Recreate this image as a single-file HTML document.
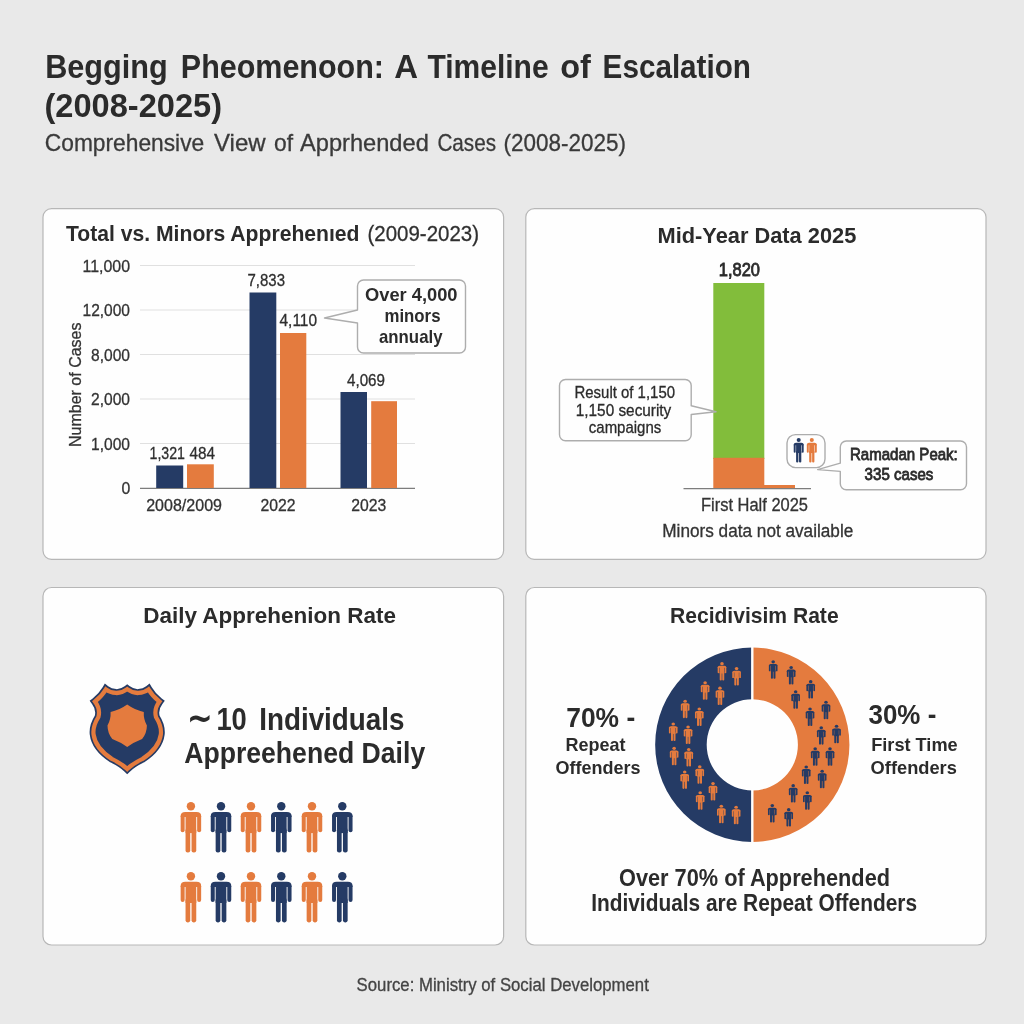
<!DOCTYPE html>
<html lang="en"><head><meta charset="utf-8"><title>Begging Phenomenon: A Timeline of Escalation</title>
<style>
html,body{margin:0;padding:0;background:#e9e9e9;}
body{width:1024px;height:1024px;overflow:hidden;}
svg{display:block;font-family:"Liberation Sans","DejaVu Sans",sans-serif;}
</style></head><body>
<svg width="1024" height="1024" viewBox="0 0 1024 1024">
<rect width="1024" height="1024" fill="#e9e9e9"/>
<defs><g id="p"><circle cx="10.25" cy="4.2" r="4.2"/><path d="M0 15 V14 Q0 9.8 4.6 9.8 H15.9 Q20.5 9.8 20.5 14 V15 Z"/><rect x="0" y="12.5" width="4" height="17.6" rx="2"/><rect x="16.5" y="12.5" width="4" height="17.6" rx="2"/><rect x="4.9" y="11" width="10.7" height="20"/><rect x="4.9" y="26" width="4.7" height="24.4" rx="2.1"/><rect x="10.9" y="26" width="4.7" height="24.4" rx="2.1"/></g></defs>
<rect x="43" y="208.6" width="460.6" height="350.69999999999993" rx="8.5" fill="#fefefe" stroke="#b7b7b7" stroke-width="1.2"/>
<rect x="525.8" y="208.6" width="460.20000000000005" height="350.69999999999993" rx="8.5" fill="#fefefe" stroke="#b7b7b7" stroke-width="1.2"/>
<rect x="43" y="587.5" width="460.6" height="357.5" rx="8.5" fill="#fefefe" stroke="#b7b7b7" stroke-width="1.2"/>
<rect x="525.8" y="587.5" width="460.20000000000005" height="357.5" rx="8.5" fill="#fefefe" stroke="#b7b7b7" stroke-width="1.2"/>
<text x="45.2" y="78" font-size="33.4" font-weight="bold" text-anchor="start" fill="#2b2b2b" textLength="122.6" lengthAdjust="spacingAndGlyphs">Begging</text>
<text x="180.8" y="78" font-size="33.4" font-weight="bold" text-anchor="start" fill="#2b2b2b" textLength="203.2" lengthAdjust="spacingAndGlyphs">Pheomenoon:</text>
<text x="394.2" y="78" font-size="33.4" font-weight="bold" text-anchor="start" fill="#2b2b2b" textLength="23.8" lengthAdjust="spacingAndGlyphs">A</text>
<text x="427.4" y="78" font-size="33.4" font-weight="bold" text-anchor="start" fill="#2b2b2b" textLength="121.2" lengthAdjust="spacingAndGlyphs">Timeline</text>
<text x="560.2" y="78" font-size="33.4" font-weight="bold" text-anchor="start" fill="#2b2b2b" textLength="30.6" lengthAdjust="spacingAndGlyphs">of</text>
<text x="602.6" y="78" font-size="33.4" font-weight="bold" text-anchor="start" fill="#2b2b2b" textLength="148.4" lengthAdjust="spacingAndGlyphs">Escalation</text>
<text x="44.5" y="116.5" font-size="33.4" font-weight="bold" text-anchor="start" fill="#2b2b2b" textLength="177.5" lengthAdjust="spacingAndGlyphs">(2008-2025)</text>
<text x="44.8" y="150.5" font-size="23.6" font-weight="normal" text-anchor="start" fill="#3a3a3a" textLength="159.4" lengthAdjust="spacingAndGlyphs" stroke="#3a3a3a" stroke-width="0.3">Comprehensive</text>
<text x="214" y="150.5" font-size="23.6" font-weight="normal" text-anchor="start" fill="#3a3a3a" textLength="51.6" lengthAdjust="spacingAndGlyphs" stroke="#3a3a3a" stroke-width="0.3">View</text>
<text x="274" y="150.5" font-size="23.6" font-weight="normal" text-anchor="start" fill="#3a3a3a" textLength="19" lengthAdjust="spacingAndGlyphs" stroke="#3a3a3a" stroke-width="0.3">of</text>
<text x="300" y="150.5" font-size="23.6" font-weight="normal" text-anchor="start" fill="#3a3a3a" textLength="128.8" lengthAdjust="spacingAndGlyphs" stroke="#3a3a3a" stroke-width="0.3">Apprhended</text>
<text x="437.4" y="150.5" font-size="23.6" font-weight="normal" text-anchor="start" fill="#3a3a3a" textLength="58.6" lengthAdjust="spacingAndGlyphs" stroke="#3a3a3a" stroke-width="0.3">Cases</text>
<text x="503.6" y="150.5" font-size="23.6" font-weight="normal" text-anchor="start" fill="#3a3a3a" textLength="122.4" lengthAdjust="spacingAndGlyphs" stroke="#3a3a3a" stroke-width="0.3">(2008-2025)</text>
<text x="66" y="240.5" font-size="22.6" fill="#2b2b2b"><tspan font-weight="bold" textLength="293.5" lengthAdjust="spacingAndGlyphs">Total vs. Minors Apprehenıed</tspan><tspan x="367.5" textLength="111.5" lengthAdjust="spacingAndGlyphs" fill="#303030" stroke="#303030" stroke-width="0.3">(2009-2023)</tspan></text>
<line x1="140" y1="265.5" x2="415" y2="265.5" stroke="#e0e0e0" stroke-width="1"/>
<line x1="140" y1="310" x2="415" y2="310" stroke="#e0e0e0" stroke-width="1"/>
<line x1="140" y1="354.5" x2="415" y2="354.5" stroke="#e0e0e0" stroke-width="1"/>
<line x1="140" y1="399" x2="415" y2="399" stroke="#e0e0e0" stroke-width="1"/>
<line x1="140" y1="443.5" x2="415" y2="443.5" stroke="#e0e0e0" stroke-width="1"/>
<line x1="140" y1="488.3" x2="415" y2="488.3" stroke="#7d7d7d" stroke-width="1.3"/>
<text x="82.5" y="271.5" font-size="17.2" font-weight="normal" text-anchor="start" fill="#333" textLength="47.5" lengthAdjust="spacingAndGlyphs" stroke="#333" stroke-width="0.3">11,000</text>
<text x="82.5" y="316" font-size="17.2" font-weight="normal" text-anchor="start" fill="#333" textLength="47.5" lengthAdjust="spacingAndGlyphs" stroke="#333" stroke-width="0.3">12,000</text>
<text x="91" y="360.5" font-size="17.2" font-weight="normal" text-anchor="start" fill="#333" textLength="39" lengthAdjust="spacingAndGlyphs" stroke="#333" stroke-width="0.3">8,000</text>
<text x="91" y="405" font-size="17.2" font-weight="normal" text-anchor="start" fill="#333" textLength="39" lengthAdjust="spacingAndGlyphs" stroke="#333" stroke-width="0.3">2,000</text>
<text x="91" y="449.5" font-size="17.2" font-weight="normal" text-anchor="start" fill="#333" textLength="39" lengthAdjust="spacingAndGlyphs" stroke="#333" stroke-width="0.3">1,000</text>
<text x="121.5" y="494.2" font-size="17.2" font-weight="normal" text-anchor="start" fill="#333" textLength="8.8" lengthAdjust="spacingAndGlyphs" stroke="#333" stroke-width="0.3">0</text>
<text transform="translate(81,447) rotate(-90)" font-size="17" fill="#333" stroke="#333" stroke-width="0.3" textLength="124.5" lengthAdjust="spacingAndGlyphs">Number of Cases</text>
<rect x="156.2" y="465.5" width="27" height="22.5" rx="0" fill="#253b65"/>
<rect x="187" y="464.3" width="26.8" height="23.7" rx="0" fill="#e47b3e"/>
<rect x="249.5" y="292.5" width="26.8" height="195.5" rx="0" fill="#253b65"/>
<rect x="280" y="333" width="26.3" height="155" rx="0" fill="#e47b3e"/>
<rect x="340.5" y="392" width="26.5" height="96" rx="0" fill="#253b65"/>
<rect x="371.2" y="401.2" width="25.8" height="86.8" rx="0" fill="#e47b3e"/>
<text x="149.5" y="458.8" font-size="17" font-weight="normal" text-anchor="start" fill="#2e2e2e" textLength="35.5" lengthAdjust="spacingAndGlyphs" stroke="#2e2e2e" stroke-width="0.3">1,321</text>
<text x="189.5" y="458.8" font-size="17" font-weight="normal" text-anchor="start" fill="#2e2e2e" textLength="25.5" lengthAdjust="spacingAndGlyphs" stroke="#2e2e2e" stroke-width="0.3">484</text>
<text x="247.5" y="285.8" font-size="17" font-weight="normal" text-anchor="start" fill="#2e2e2e" textLength="37.5" lengthAdjust="spacingAndGlyphs" stroke="#2e2e2e" stroke-width="0.3">7,833</text>
<text x="279.5" y="326" font-size="17" font-weight="normal" text-anchor="start" fill="#2e2e2e" textLength="37.5" lengthAdjust="spacingAndGlyphs" stroke="#2e2e2e" stroke-width="0.3">4,110</text>
<text x="347" y="385.8" font-size="17" font-weight="normal" text-anchor="start" fill="#2e2e2e" textLength="38" lengthAdjust="spacingAndGlyphs" stroke="#2e2e2e" stroke-width="0.3">4,069</text>
<text x="146.2" y="510.5" font-size="16.6" font-weight="normal" text-anchor="start" fill="#333" textLength="75.8" lengthAdjust="spacingAndGlyphs" stroke="#333" stroke-width="0.3">2008/2009</text>
<text x="260.5" y="510.5" font-size="16.6" font-weight="normal" text-anchor="start" fill="#333" textLength="35" lengthAdjust="spacingAndGlyphs" stroke="#333" stroke-width="0.3">2022</text>
<text x="351.2" y="510.5" font-size="16.6" font-weight="normal" text-anchor="start" fill="#333" textLength="35" lengthAdjust="spacingAndGlyphs" stroke="#333" stroke-width="0.3">2023</text>
<path d="M363.5 280 H459.5 a6 6 0 0 1 6 6 V347 a6 6 0 0 1 -6 6 H363.5 a6 6 0 0 1 -6 -6 V323 L324.5 318 L357.5 310 V286 a6 6 0 0 1 6 -6 Z" fill="#fefefe" stroke="#adadad" stroke-width="1.4" stroke-linejoin="round"/>
<text x="365" y="300.5" font-size="18.6" font-weight="bold" text-anchor="start" fill="#2b2b2b" textLength="92.5" lengthAdjust="spacingAndGlyphs">Over 4,000</text>
<text x="384.5" y="322" font-size="18.6" font-weight="bold" text-anchor="start" fill="#2b2b2b" textLength="56" lengthAdjust="spacingAndGlyphs">minors</text>
<text x="379" y="342.5" font-size="18.6" font-weight="bold" text-anchor="start" fill="#2b2b2b" textLength="63.5" lengthAdjust="spacingAndGlyphs">annualy</text>
<text x="657.5" y="242.5" font-size="22.6" font-weight="bold" text-anchor="start" fill="#2b2b2b" textLength="198.8" lengthAdjust="spacingAndGlyphs">Mid-Year Data 2025</text>
<text x="718.8" y="276.2" font-size="17.6" font-weight="normal" text-anchor="start" fill="#2b2b2b" textLength="41.2" lengthAdjust="spacingAndGlyphs" stroke="#2b2b2b" stroke-width="0.8">1,820</text>
<rect x="713.3" y="283" width="51" height="176" rx="0" fill="#82bd3b"/>
<rect x="713.3" y="457.8" width="51" height="30.5" rx="0" fill="#e47b3e"/>
<rect x="764" y="485" width="31" height="3.3" rx="0" fill="#e47b3e"/>
<line x1="683.5" y1="488.6" x2="811" y2="488.6" stroke="#7d7d7d" stroke-width="1.3"/>
<path d="M565.5 379.5 H685.2 a6 6 0 0 1 6 6 V405.8 L716 411.8 L691.2 414.5 V434.8 a6 6 0 0 1 -6 6 H565.5 a6 6 0 0 1 -6 -6 V385.5 a6 6 0 0 1 6 -6 Z" fill="#fefefe" stroke="#adadad" stroke-width="1.4" stroke-linejoin="round"/>
<text x="574.5" y="397.5" font-size="16.6" font-weight="normal" text-anchor="start" fill="#2b2b2b" textLength="100.5" lengthAdjust="spacingAndGlyphs" stroke="#2b2b2b" stroke-width="0.3">Result of 1,150</text>
<text x="575.8" y="415.5" font-size="16.6" font-weight="normal" text-anchor="start" fill="#2b2b2b" textLength="95.5" lengthAdjust="spacingAndGlyphs" stroke="#2b2b2b" stroke-width="0.3">1,150 security</text>
<text x="588.8" y="433.3" font-size="16.6" font-weight="normal" text-anchor="start" fill="#2b2b2b" textLength="72.5" lengthAdjust="spacingAndGlyphs" stroke="#2b2b2b" stroke-width="0.3">campaigns</text>
<text x="701" y="511.4" font-size="17.6" font-weight="normal" text-anchor="start" fill="#333" textLength="107" lengthAdjust="spacingAndGlyphs" stroke="#333" stroke-width="0.3">First Half 2025</text>
<text x="662.3" y="537" font-size="17.6" font-weight="normal" text-anchor="start" fill="#333" textLength="191" lengthAdjust="spacingAndGlyphs" stroke="#333" stroke-width="0.3">Minors data not available</text>
<path d="M846.3 441 H960.5 a6 6 0 0 1 6 6 V483.7 a6 6 0 0 1 -6 6 H846.3 a6 6 0 0 1 -6 -6 V471.4 L817.6 469.6 L840.3 463.2 V447 a6 6 0 0 1 6 -6 Z" fill="#fefefe" stroke="#adadad" stroke-width="1.4" stroke-linejoin="round"/>
<rect x="787" y="434.6" width="38" height="33" rx="8.5" fill="#fefefe" stroke="#adadad" stroke-width="1.4"/>
<text x="850" y="460" font-size="16.6" font-weight="normal" text-anchor="start" fill="#2b2b2b" textLength="107.8" lengthAdjust="spacingAndGlyphs" stroke="#2b2b2b" stroke-width="0.8">Ramadan Peak:</text>
<text x="864.6" y="480" font-size="16.6" font-weight="normal" text-anchor="start" fill="#2b2b2b" textLength="68.8" lengthAdjust="spacingAndGlyphs" stroke="#2b2b2b" stroke-width="0.8">335 cases</text>
<use href="#p" transform="translate(793.72,438.00) scale(0.4861,0.4861)" fill="#253b65"/>
<use href="#p" transform="translate(806.82,438.00) scale(0.4861,0.4861)" fill="#e47b3e"/>
<text x="143.2" y="623.2" font-size="22.6" font-weight="bold" text-anchor="start" fill="#2b2b2b" textLength="252.8" lengthAdjust="spacingAndGlyphs">Daily Apprehenion Rate</text>
<text x="186.8" y="729.5" font-size="36" font-weight="bold" text-anchor="start" fill="#2b2b2b" textLength="26" lengthAdjust="spacingAndGlyphs">∼</text>
<text x="216.4" y="729.5" font-size="32" font-weight="bold" text-anchor="start" fill="#2b2b2b" textLength="30.4" lengthAdjust="spacingAndGlyphs">10</text>
<text x="259.2" y="729.5" font-size="32" font-weight="bold" text-anchor="start" fill="#2b2b2b" textLength="145.3" lengthAdjust="spacingAndGlyphs">Individuals</text>
<text x="184.2" y="763" font-size="29" font-weight="bold" text-anchor="start" fill="#2b2b2b" textLength="241" lengthAdjust="spacingAndGlyphs">Appreehened Daily</text>
<use href="#p" transform="translate(180.65,802.10) scale(1.0000,1.0000)" fill="#e47b3e"/>
<use href="#p" transform="translate(180.65,872.00) scale(1.0000,1.0000)" fill="#e47b3e"/>
<use href="#p" transform="translate(210.75,802.10) scale(1.0000,1.0000)" fill="#253b65"/>
<use href="#p" transform="translate(210.75,872.00) scale(1.0000,1.0000)" fill="#253b65"/>
<use href="#p" transform="translate(240.75,802.10) scale(1.0000,1.0000)" fill="#e47b3e"/>
<use href="#p" transform="translate(240.75,872.00) scale(1.0000,1.0000)" fill="#e47b3e"/>
<use href="#p" transform="translate(271.05,802.10) scale(1.0000,1.0000)" fill="#253b65"/>
<use href="#p" transform="translate(271.05,872.00) scale(1.0000,1.0000)" fill="#253b65"/>
<use href="#p" transform="translate(301.75,802.10) scale(1.0000,1.0000)" fill="#e47b3e"/>
<use href="#p" transform="translate(301.75,872.00) scale(1.0000,1.0000)" fill="#e47b3e"/>
<use href="#p" transform="translate(332.05,802.10) scale(1.0000,1.0000)" fill="#253b65"/>
<use href="#p" transform="translate(332.05,872.00) scale(1.0000,1.0000)" fill="#253b65"/>
<path d="M127.2 685.4 Q121 690 114.5 689.6 Q108 689.2 103.4 685.6 Q99 693 91.2 699 Q97.5 707 95 716 Q88.5 726 89.6 735 Q91.5 750 110 761.8 Q121 767 127.2 772.9 Q133.4 767 144.4 761.8 Q162.9 750 164.8 735 Q165.9 726 159.4 716 Q156.9 707 163.2 699 Q155.4 693 151 685.6 Q146.4 689.2 139.9 689.6 Q133.4 690 127.2 685.4 Z" fill="#253b65" stroke="#253b65" stroke-width="8.5" stroke-linejoin="miter" stroke-miterlimit="6" transform="translate(127.2,728) scale(0.895,0.912) translate(-127.2,-728)"/>
<path d="M127.2 685.4 Q121 690 114.5 689.6 Q108 689.2 103.4 685.6 Q99 693 91.2 699 Q97.5 707 95 716 Q88.5 726 89.6 735 Q91.5 750 110 761.8 Q121 767 127.2 772.9 Q133.4 767 144.4 761.8 Q162.9 750 164.8 735 Q165.9 726 159.4 716 Q156.9 707 163.2 699 Q155.4 693 151 685.6 Q146.4 689.2 139.9 689.6 Q133.4 690 127.2 685.4 Z" fill="none" stroke="#e47b3e" stroke-width="4.7" stroke-linejoin="miter" stroke-miterlimit="6" transform="translate(127.2,728) scale(0.895,0.912) translate(-127.2,-728)"/>
<path d="M127.2 704.6 Q119 710.5 110.6 711.9 Q111 719 107.5 725.5 Q107.5 733 112.3 739.1 Q121 742.5 127.2 747 Q133.4 742.5 142.1 739.1 Q146.9 733 146.9 725.5 Q143.4 719 143.8 711.9 Q135.4 710.5 127.2 704.6 Z" fill="#e47b3e"/>
<text x="670" y="623.2" font-size="22.6" font-weight="bold" text-anchor="start" fill="#2b2b2b" textLength="168.6" lengthAdjust="spacingAndGlyphs">Recidivisim Rate</text>
<path d="M752.3 647.5999999999999 A97.2 97.2 0 0 0 752.3 842.0 V790.4 A45.6 45.6 0 0 1 752.3 699.1999999999999 Z" fill="#253b65"/>
<path d="M752.3 647.5999999999999 A97.2 97.2 0 0 1 752.3 842.0 V790.4 A45.6 45.6 0 0 0 752.3 699.1999999999999 Z" fill="#e47b3e"/>
<rect x="751.0999999999999" y="646.5999999999999" width="2.4" height="53.6" rx="0" fill="#fefefe"/>
<rect x="751.0999999999999" y="789.4" width="2.4" height="53.6" rx="0" fill="#fefefe"/>
<use href="#p" transform="translate(717.66,662.12) scale(0.4221,0.3671)" fill="#e47b3e"/>
<use href="#p" transform="translate(732.26,667.06) scale(0.4221,0.3671)" fill="#e47b3e"/>
<use href="#p" transform="translate(700.81,681.21) scale(0.4221,0.3671)" fill="#e47b3e"/>
<use href="#p" transform="translate(715.64,686.60) scale(0.4221,0.3671)" fill="#e47b3e"/>
<use href="#p" transform="translate(680.82,699.63) scale(0.4221,0.3671)" fill="#e47b3e"/>
<use href="#p" transform="translate(694.97,707.49) scale(0.4221,0.3671)" fill="#e47b3e"/>
<use href="#p" transform="translate(668.92,722.54) scale(0.4221,0.3671)" fill="#e47b3e"/>
<use href="#p" transform="translate(683.74,725.46) scale(0.4221,0.3671)" fill="#e47b3e"/>
<use href="#p" transform="translate(669.82,746.80) scale(0.4221,0.3671)" fill="#e47b3e"/>
<use href="#p" transform="translate(684.42,747.92) scale(0.4221,0.3671)" fill="#e47b3e"/>
<use href="#p" transform="translate(695.42,765.22) scale(0.4221,0.3671)" fill="#e47b3e"/>
<use href="#p" transform="translate(680.37,770.39) scale(0.4221,0.3671)" fill="#e47b3e"/>
<use href="#p" transform="translate(708.67,782.07) scale(0.4221,0.3671)" fill="#e47b3e"/>
<use href="#p" transform="translate(695.87,791.28) scale(0.4221,0.3671)" fill="#e47b3e"/>
<use href="#p" transform="translate(716.99,804.75) scale(0.4221,0.3671)" fill="#e47b3e"/>
<use href="#p" transform="translate(731.81,805.65) scale(0.4221,0.3671)" fill="#e47b3e"/>
<use href="#p" transform="translate(768.87,660.32) scale(0.4221,0.3671)" fill="#253b65"/>
<use href="#p" transform="translate(786.84,665.94) scale(0.4221,0.3671)" fill="#253b65"/>
<use href="#p" transform="translate(806.38,680.09) scale(0.4221,0.3671)" fill="#253b65"/>
<use href="#p" transform="translate(791.33,690.20) scale(0.4221,0.3671)" fill="#253b65"/>
<use href="#p" transform="translate(821.66,700.75) scale(0.4221,0.3671)" fill="#253b65"/>
<use href="#p" transform="translate(805.71,707.49) scale(0.4221,0.3671)" fill="#253b65"/>
<use href="#p" transform="translate(832.21,724.79) scale(0.4221,0.3671)" fill="#253b65"/>
<use href="#p" transform="translate(816.94,726.14) scale(0.4221,0.3671)" fill="#253b65"/>
<use href="#p" transform="translate(810.88,747.25) scale(0.4221,0.3671)" fill="#253b65"/>
<use href="#p" transform="translate(825.70,747.25) scale(0.4221,0.3671)" fill="#253b65"/>
<use href="#p" transform="translate(801.89,765.44) scale(0.4221,0.3671)" fill="#253b65"/>
<use href="#p" transform="translate(817.84,769.71) scale(0.4221,0.3671)" fill="#253b65"/>
<use href="#p" transform="translate(788.86,784.09) scale(0.4221,0.3671)" fill="#253b65"/>
<use href="#p" transform="translate(803.01,791.28) scale(0.4221,0.3671)" fill="#253b65"/>
<use href="#p" transform="translate(767.97,804.08) scale(0.4221,0.3671)" fill="#253b65"/>
<use href="#p" transform="translate(784.37,808.12) scale(0.4221,0.3671)" fill="#253b65"/>
<text x="566.2" y="727.2" font-size="27.8" font-weight="bold" text-anchor="start" fill="#2b2b2b" textLength="69" lengthAdjust="spacingAndGlyphs">70% -</text>
<text x="565.6" y="750.6" font-size="18.4" font-weight="bold" text-anchor="start" fill="#2b2b2b" textLength="60" lengthAdjust="spacingAndGlyphs">Repeat</text>
<text x="555.6" y="773.5" font-size="18.4" font-weight="bold" text-anchor="start" fill="#2b2b2b" textLength="85" lengthAdjust="spacingAndGlyphs">Offenders</text>
<text x="868.5" y="724.4" font-size="27.8" font-weight="bold" text-anchor="start" fill="#2b2b2b" textLength="67.8" lengthAdjust="spacingAndGlyphs">30% -</text>
<text x="871.2" y="750.6" font-size="18.4" font-weight="bold" text-anchor="start" fill="#2b2b2b" textLength="86.5" lengthAdjust="spacingAndGlyphs">First Time</text>
<text x="870.6" y="773.5" font-size="18.4" font-weight="bold" text-anchor="start" fill="#2b2b2b" textLength="86.3" lengthAdjust="spacingAndGlyphs">Offenders</text>
<text x="619" y="886.4" font-size="23" font-weight="bold" text-anchor="start" fill="#2b2b2b" textLength="271" lengthAdjust="spacingAndGlyphs">Over 70% of Apprehended</text>
<text x="591.2" y="911.2" font-size="23" font-weight="bold" text-anchor="start" fill="#2b2b2b" textLength="325.8" lengthAdjust="spacingAndGlyphs">Individuals are Repeat Offenders</text>
<text x="356.6" y="990.9" font-size="17.6" font-weight="normal" text-anchor="start" fill="#444" textLength="292.2" lengthAdjust="spacingAndGlyphs" stroke="#444" stroke-width="0.3">Source: Ministry of Social Development</text>
</svg>
</body></html>
